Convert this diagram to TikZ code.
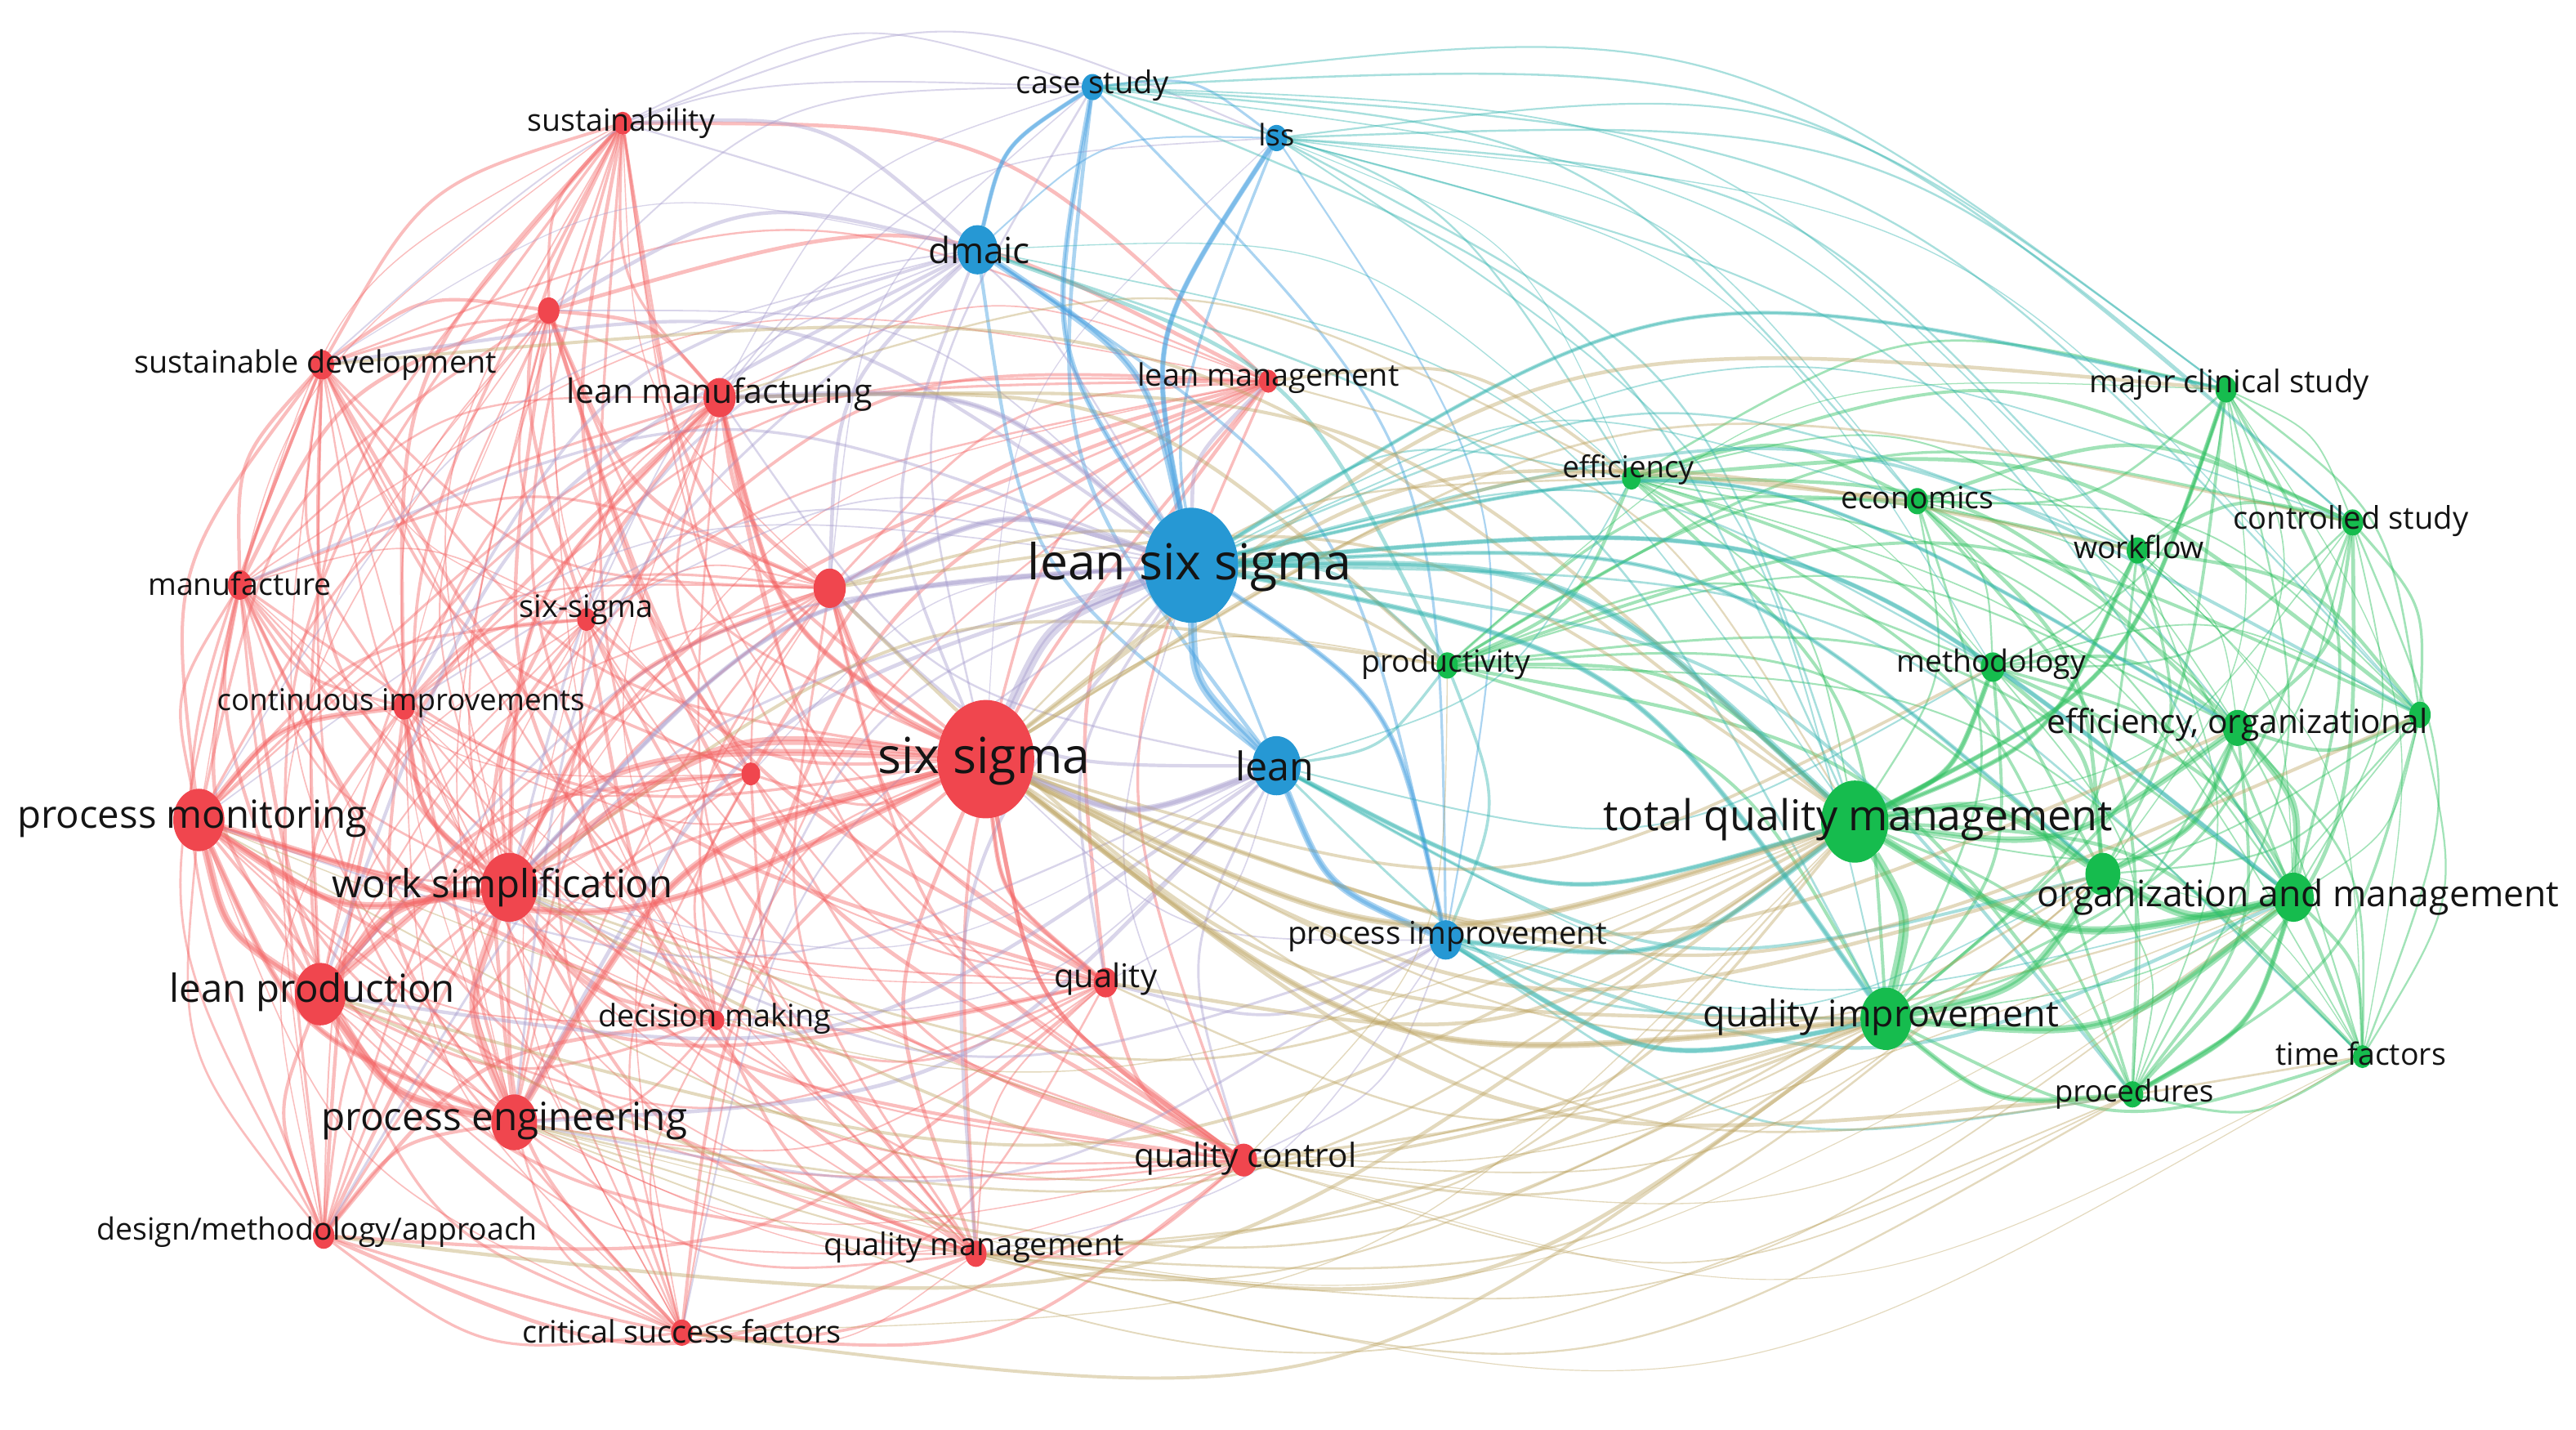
\documentclass[tikz,border=0pt]{standalone}
\usepackage{fontspec}
\setmainfont{Open Sans}
\usetikzlibrary{shapes.geometric,calc}
\pgfdeclarelayer{bg}
\pgfdeclarelayer{edges}
\pgfsetlayers{bg,edges,main}

\definecolor{cR}{RGB}{240,70,78}
\definecolor{cB}{RGB}{38,152,212}
\definecolor{cG}{RGB}{22,188,78}
\definecolor{eR}{RGB}{244,100,100}
\definecolor{eB}{RGB}{70,160,225}
\definecolor{eG}{RGB}{45,192,95}
\definecolor{eRB}{RGB}{165,155,205}
\definecolor{eRG}{RGB}{190,165,100}
\definecolor{eBG}{RGB}{50,180,175}

\tikzset{
  nd/.style={ellipse, inner sep=0pt, outer sep=0pt, minimum height=2*#1*0.2mm, minimum width=1.64*#1*0.2mm},
  lab/.style={font=\fontsize{#1}{#1}\selectfont, inner sep=0pt, text=black!92},
  lnR/.style={draw=eR, draw opacity=0.42},
  lnB/.style={draw=eB, draw opacity=0.45},
  lnG/.style={draw=eG, draw opacity=0.44},
  lnRB/.style={draw=eRB, draw opacity=0.42},
  lnRG/.style={draw=eRG, draw opacity=0.42},
  lnBG/.style={draw=eBG, draw opacity=0.42},
}

\newcommand\kcurve{0.2}
\newcommand\edgeto[4]{%
  \path (#1.center); \pgfgetlastxy{\ax}{\ay}%
  \path (#2.center); \pgfgetlastxy{\bx}{\by}%
  \pgfmathsetmacro\dxx{((\bx)-(\ax))/100}%
  \pgfmathsetmacro\dyy{((\by)-(\ay))/100}%
  \pgfmathsetmacro\mxx{(((\ax)+(\bx))/2-(\Cx))/100}%
  \pgfmathsetmacro\myy{(((\ay)+(\by))/2-(\Cy))/100}%
  \pgfmathsetmacro\sgn{(0-(\dyy)*(\mxx)+(\dxx)*(\myy))<0?-1:1}%
  \pgfmathsetmacro\qx{((\ax)+(\bx))/2-(\sgn)*\kcurve*((\by)-(\ay))}%
  \pgfmathsetmacro\qy{((\ay)+(\by))/2+(\sgn)*\kcurve*((\bx)-(\ax))}%
  \draw[#3, line width=#4 pt] (#1) .. controls (\qx pt,\qy pt) .. (#2);%
}
\newcommand\rw{\pgfmathsetmacro\w{0.35+1.0*rnd}}
\newcommand\tw{\pgfmathsetmacro\w{0.3+0.45*rnd}}

\def\redlist{sus,r1,sd,lm,mf,ss2,r2,ci,pm,r3,ss,ws,lp,dm,qu,pe,qc,dma,qm,csf,lmg}
\def\bluelist{cs,lss,dmaic,lsix,lean,pi}
\def\greenlist{eff,eco,mcs,cst,wf,prod,meth,effo,g1,tqm,g2,oam,qi,proc,tf}

\begin{document}
\begin{tikzpicture}[x=0.02cm,y=-0.02cm]
\useasboundingbox (0,0) rectangle (1568,870);
\begin{pgfonlayer}{bg}
\fill[white] (0,0) rectangle (1568,870);
\end{pgfonlayer}
\path (785,440); \pgfgetlastxy{\Cx}{\Cy}
\pgfmathsetseed{12345}

% ---------- nodes ----------
\foreach \n/\x/\y/\r in {sus/379/75/7, r1/334/189/8, sd/196/222/9, lm/438/242/12,
  mf/146/356/9, ss2/357/377/7, r2/505/358/12, ci/246/430/8, pm/121/499/19,
  r3/457/471/7, ss/600/462/36, ws/310/540/21, lp/195/605/19, dm/436/621/6,
  qu/673/598/9, pe/313/683/17, qc/757/706/10, dma/197/752/8, qm/594/763/8,
  csf/415/811/8, lmg/772/232/7}
  \node[nd=\r, fill=cR] (\n) at (\x,\y) {};
\foreach \n/\x/\y/\r in {cs/665/53/8, lss/777/84/8, dmaic/595/152/15,
  lsix/725/344/35, lean/777/466/18, pi/880/572/12}
  \node[nd=\r, fill=cB] (\n) at (\x,\y) {};
\foreach \n/\x/\y/\r in {eff/993/291/7, eco/1167/305/8, mcs/1355/237/8,
  cst/1432/318/8, wf/1301/335/8, prod/881/405/8, meth/1213/406/9,
  effo/1362/443/11, g1/1473/435/8, tqm/1129/500/25, g2/1280/532/13,
  oam/1396/546/15, qi/1148/620/19, proc/1298/666/8, tf/1438/643/7}
  \node[nd=\r, fill=cG] (\n) at (\x,\y) {};

% ---------- edges ----------
\begin{pgfonlayer}{edges}
\foreach \a [count=\i] in \redlist {\foreach \b [count=\j] in \redlist {%
  \ifnum\j>\i\relax \rw\edgeto{\a}{\b}{lnR}{\w}\fi}}
\foreach \a [count=\i] in \bluelist {\foreach \b [count=\j] in \bluelist {%
  \ifnum\j>\i\relax \rw\edgeto{\a}{\b}{lnB}{\w}\fi}}
\foreach \a [count=\i] in \greenlist {\foreach \b [count=\j] in \greenlist {%
  \ifnum\j>\i\relax \rw\edgeto{\a}{\b}{lnG}{\w}\fi}}

% blue - red
\foreach \b in \redlist {\rw\edgeto{lsix}{\b}{lnRB}{\w}}
\foreach \b in {lm,sd,sus,r1,r2,ss,ws,pm,lp,pe,ci,ss2} {\rw\edgeto{dmaic}{\b}{lnRB}{\w}}
\foreach \b in {ss,r2,lm,ws,pe,qu,qc,lp,pm,dm} {\rw\edgeto{lean}{\b}{lnRB}{\w}}
\foreach \b in {ss,qu,qc,qm,pe,ws} {\rw\edgeto{pi}{\b}{lnRB}{\w}}
\foreach \b in {sus,lm,ss,r1,sd,r2} {\tw\edgeto{cs}{\b}{lnRB}{\w}}
\foreach \b in {ss,lm,sus} {\tw\edgeto{lss}{\b}{lnRB}{\w}}
% blue - green
\foreach \b in \greenlist {\rw\edgeto{lsix}{\b}{lnBG}{\w}}
\foreach \b in {tqm,qi,oam,prod,eff,g2,meth} {\rw\edgeto{lean}{\b}{lnBG}{\w}}
\foreach \b in {tqm,qi,oam,g2,proc,prod} {\rw\edgeto{pi}{\b}{lnBG}{\w}}
\foreach \b in {mcs,tqm,eff,eco,g1,cst,effo,wf} {\tw\edgeto{cs}{\b}{lnBG}{\w}}
\foreach \b in {tqm,mcs,eff,qi,eco,cst,g1,wf,meth,oam} {\tw\edgeto{lss}{\b}{lnBG}{\w}}
\foreach \b in {tqm,qi,prod,eff} {\rw\edgeto{dmaic}{\b}{lnBG}{\w}}
% red - green
\foreach \b in \greenlist {\rw\edgeto{ss}{\b}{lnRG}{\w}}
\foreach \b in {lm,r2,pm,ws,lp,pe,qc,qm,qu,csf,dma,lmg,sd} {\rw\edgeto{tqm}{\b}{lnRG}{\w}}
\foreach \b in {qc,qm,qu,pe,lp,ws,pm,csf,r2} {\rw\edgeto{qi}{\b}{lnRG}{\w}}
\foreach \b in {qc,ws,pe,qm} {\tw\edgeto{oam}{\b}{lnRG}{\w}}
\foreach \b in {lm,ws,r2,qc} {\rw\edgeto{prod}{\b}{lnRG}{\w}}
\foreach \b in {lmg,lm} {\rw\edgeto{eff}{\b}{lnRG}{\w}}
\foreach \b in {qm,qc,pe} {\tw\edgeto{proc}{\b}{lnRG}{\w}}
\foreach \b in {qc,qm} {\tw\edgeto{tf}{\b}{lnRG}{\w}}
\foreach \b in {qc,pe,qm} {\tw\edgeto{g2}{\b}{lnRG}{\w}}

% strong links
\foreach \a/\b/\c/\ww in {ss/lsix/lnRB/3.5, ss/lean/lnRB/2.2, ss/ws/lnR/3,
  ss/pm/lnR/2.4, ss/lp/lnR/2.4, ss/pe/lnR/2.6, ss/r2/lnR/2, ss/lm/lnR/1.8,
  ss/qu/lnR/1.5, ss/qc/lnR/1.5, ws/lp/lnR/3, ws/pm/lnR/2.5, ws/pe/lnR/3,
  lp/pe/lnR/3, lp/pm/lnR/2.8, pm/pe/lnR/2, ci/pm/lnR/2, ci/ws/lnR/1.8,
  lm/ws/lnR/1.6, r2/ws/lnR/1.6, lsix/dmaic/lnB/2.4, lsix/lean/lnB/3,
  lsix/cs/lnB/1.8, lsix/lss/lnB/1.8, lsix/pi/lnB/1.8, lean/pi/lnB/2.4,
  dmaic/cs/lnB/1.5, lsix/tqm/lnBG/2.4, lsix/qi/lnBG/1.8, lsix/lm/lnRB/1.8,
  lsix/r2/lnRB/2, lsix/ws/lnRB/1.6, lsix/oam/lnBG/1.6, lsix/g2/lnBG/1.4,
  lsix/effo/lnBG/1.3, lsix/mcs/lnBG/1.3,
  tqm/qi/lnG/3.5, tqm/oam/lnG/2.8,
  tqm/g2/lnG/2.8, tqm/effo/lnG/2.2, qi/oam/lnG/2.6, qi/g2/lnG/2.8,
  oam/g2/lnG/2.8, effo/oam/lnG/2.4, effo/g2/lnG/2, tqm/meth/lnG/1.8,
  qi/proc/lnG/1.8, oam/proc/lnG/1.8, tqm/mcs/lnG/1.6, tqm/wf/lnG/1.6,
  ss/tqm/lnRG/2.2, ss/qi/lnRG/2.2, pi/tqm/lnBG/1.8, pi/qi/lnBG/1.8,
  lean/tqm/lnBG/1.6}
  {\edgeto{\a}{\b}{\c}{\ww}}
\end{pgfonlayer}

% ---------- labels ----------
\node[lab=10.6] (sus-t) at (378,75) {sustainability};
\node[lab=10.7] (sd-t) at (192,222) {sustainable development};
\node[lab=11.6] (lm-t) at (438,240) {lean manufacturing};
\node[lab=10.6] (mf-t) at (146,355) {manufacture};
\node[lab=10.7] (ss2-t) at (357,371) {six-sigma};
\node[lab=10.4] (ci-t) at (244,428) {continuous improvements};
\node[lab=13.4] (pm-t) at (117,498) {process monitoring};
\node[lab=13.4] (ws-t) at (306,540) {work simplification};
\node[lab=13.4] (lp-t) at (190,604) {lean production};
\node[lab=10.7] (dm-t) at (435,620) {decision making};
\node[lab=13.5] (pe-t) at (307,682) {process engineering};
\node[lab=10.6] (dma-t) at (193,750) {design/methodology/approach};
\node[lab=10.7] (csf-t) at (415,810) {critical success factors};
\node[lab=10.8] (qm-t) at (593,759) {quality management};
\node[lab=11.5] (qc-t) at (758,705) {quality control};
\node[lab=11.3] (qu-t) at (673,596) {quality};
\node[lab=17.2] (ss-t) at (599,463) {six sigma};
\node[lab=10.7] (lmg-t) at (772,230) {lean management};
\node[lab=10.8] (cs-t) at (665,52) {case study};
\node[lab=10.3] (lss-t) at (777,82) {lss};
\node[lab=12.5] (dmaic-t) at (596,152) {dmaic};
\node[lab=17.2] (lsix-t) at (724,345) {lean six sigma};
\node[lab=13.7] (lean-t) at (776,466) {lean};
\node[lab=10.9] (pi-t) at (881,570) {process improvement};
\node[lab=10.6] (prod-t) at (880,404) {productivity};
\node[lab=10.4] (eff-t) at (991,286) {efficiency};
\node[lab=10.6] (eco-t) at (1167,303) {economics};
\node[lab=10.8] (mcs-t) at (1357,234) {major clinical study};
\node[lab=10.8] (cst-t) at (1431,317) {controlled study};
\node[lab=10.6] (wf-t) at (1302,333) {workflow};
\node[lab=10.6] (meth-t) at (1212,404) {methodology};
\node[lab=11.5] (effo-t) at (1362,441) {efficiency, organizational};
\node[lab=14.7] (tqm-t) at (1131,499) {total quality management};
\node[lab=12.6] (oam-t) at (1399,546) {organization and management};
\node[lab=12.7] (qi-t) at (1145,619) {quality improvement};
\node[lab=10.4] (proc-t) at (1299,666) {procedures};
\node[lab=10.6] (tf-t) at (1437,641) {time factors};
\end{tikzpicture}
\end{document}
